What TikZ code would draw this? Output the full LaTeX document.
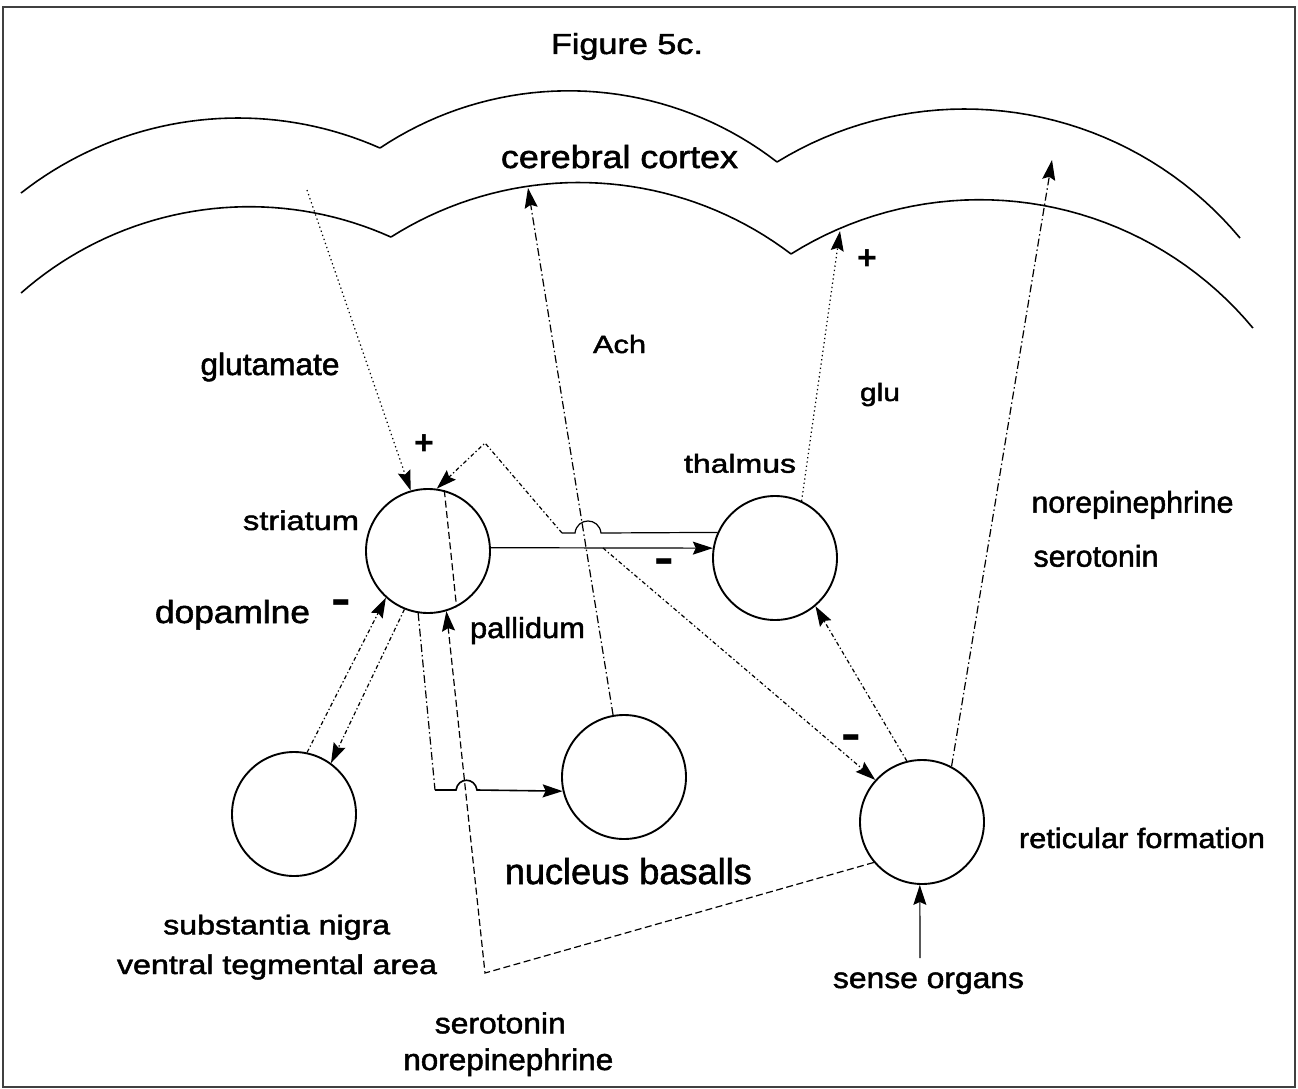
\documentclass[tikz,border=0pt]{standalone}
\usepackage{fontspec}
\setmainfont{Liberation Sans}
\newfontfamily\labfont{Liberation Sans}[FakeBold=1.6]
\usepackage{graphicx}
\usetikzlibrary{arrows.meta}
\newcommand\mylbl[3]{\fontsize{#1pt}{#1pt}\selectfont\resizebox{#2pt}{\height}{#3}}
\begin{document}
\begin{tikzpicture}[x=1pt,y=-1pt,
  nodecirc/.style={circle,draw,line width=1.9pt,minimum size=124pt,inner sep=0pt},
  lab/.style={inner sep=0pt,anchor=base,font=\labfont},
  sign/.style={inner sep=0pt,anchor=base,font=\bfseries},
  conn/.style={line width=1.2pt},
  arr/.style={-{Stealth[length=20pt,width=13pt,inset=3pt]}},
  dotln/.style={conn,dash pattern=on 1.3pt off 3pt},
  dashdotfine/.style={conn,dash pattern=on 4pt off 2.5pt on 1.3pt off 2.5pt},
  dashdotlong/.style={conn,dash pattern=on 8pt off 3pt on 1.5pt off 3pt},
  dashln/.style={conn,dash pattern=on 7pt off 3.5pt},
  solidln/.style={conn},
  cortex/.style={line width=1.6pt},
]
\useasboundingbox (0,0) rectangle (1298,1089);
\fill[white] (0,0) rectangle (1298,1089);
\draw[line width=2.2pt, black!75] (3,7) rectangle (1295,1087);

% cerebral cortex curves
\draw[cortex] plot[domain=128.16:66.15,samples=40,variable=\t] ({237.96+351.2*cos(\t)},{469.2-351.2*sin(\t)});
\draw[cortex] plot[domain=123.71:52.26,samples=40,variable=\t] ({568.8+340.2*cos(\t)},{431-340.2*sin(\t)});
\draw[cortex] plot[domain=121.55:39.8,samples=40,variable=\t] ({964.6+358.5*cos(\t)},{467.5-358.5*sin(\t)});
\draw[cortex] plot[domain=131.4:65.8,samples=40,variable=\t] ({249.4+345.3*cos(\t)},{552-345.3*sin(\t)});
\draw[cortex] plot[domain=122.36:52.78,samples=40,variable=\t] ({578.8+350.9*cos(\t)},{533.4-350.9*sin(\t)});
\draw[cortex] plot[domain=122.1:39.69,samples=40,variable=\t] ({979.7+355.1*cos(\t)},{554.8-355.1*sin(\t)});

% circles
\node[nodecirc] (str) at (428,551) {};
\node[nodecirc] (thal) at (775,558) {};
\node[nodecirc] (sn) at (294,814) {};
\node[nodecirc] (nb) at (624,777) {};
\node[nodecirc] (ret) at (922,822) {};

% labels
\node[lab] (title) at (627,54) {\mylbl{29}{152}{Figure 5c.}};
\node[lab] (lcortex) at (619.5,168) {\mylbl{32}{237}{cerebral cortex}};
\node[lab] (lglut) at (270,375) {\mylbl{31}{139}{glutamate}};
\node[lab] (lach) at (619.5,353) {\mylbl{25}{53}{Ach}};
\node[lab] (lglu) at (880,401) {\mylbl{25}{40}{glu}};
\node[lab] (lthal) at (740,472.7) {\mylbl{26}{112}{thalmus}};
\node[lab] (lstr) at (301,530) {\mylbl{27}{116}{striatum}};
\node[lab] (ldopa) at (232.5,623) {\mylbl{32}{155}{dopamlne}};
\node[lab] (lpall) at (527.5,638) {\mylbl{29}{115}{pallidum}};
\node[lab] (lne1) at (1132.5,512.7) {\mylbl{30}{202}{norepinephrine}};
\node[lab] (lser1) at (1096,566.7) {\mylbl{30}{125}{serotonin}};
\node[lab] (lret) at (1142,848) {\mylbl{28}{246}{reticular formation}};
\node[lab] (lnb) at (628.3,884) {\mylbl{36}{247}{nucleus basalls}};
\node[lab] (lsn) at (276.7,934.3) {\mylbl{27}{227}{substantia nigra}};
\node[lab] (lvta) at (277,974) {\mylbl{27}{320}{ventral tegmental area}};
\node[lab] (lsense) at (928.5,988) {\mylbl{29}{191}{sense organs}};
\node[lab] (lser2) at (500.3,1033.3) {\mylbl{29}{131}{serotonin}};
\node[lab] (lne2) at (508.3,1070) {\mylbl{30}{210}{norepinephrine}};

% signs
\node[sign] (plus1) at (424,454) {\fontsize{34pt}{34pt}\selectfont +};
\node[sign] (plus2) at (867,269) {\fontsize{34pt}{34pt}\selectfont +};
\node[sign] (minus1) at (341.7,619) {\fontsize{30pt}{30pt}\selectfont\scalebox{1}[1.7]{−}};
\node[sign] (minus2) at (664.7,578) {\fontsize{30pt}{30pt}\selectfont\scalebox{1}[1.7]{−}};
\node[sign] (minus3) at (851,754) {\fontsize{30pt}{30pt}\selectfont\scalebox{1}[1.7]{−}};

% free ends and bends
\coordinate (glutSrc) at (307,190);
\coordinate (achTip) at (528,188);
\coordinate (gluTip) at (840,231);
\coordinate (neTip) at (1052,160);
\coordinate (peak) at (485,443);
\coordinate (jA) at (601,533);
\coordinate (jB) at (575,533);
\coordinate (jC) at (562,533);
\coordinate (branch) at (603,548);
\coordinate (dropB) at (435,790);
\coordinate (hA) at (456,790);
\coordinate (hB) at (477,790);
\coordinate (corner) at (485,973);
\coordinate (senseSrc) at (920,958);

% connectors
\draw[dotln,arr] (glutSrc) -- (str.106);
\draw[solidln] (thal.156) -- (jA) .. controls (599,517) and (577,517) .. (jB) -- (jC);
\draw[dashdotfine,arr] (jC) -- (peak) -- (str.82);
\draw[solidln,arr] (str.3) -- (thal.171);
\draw[dashdotfine,arr] (branch) -- (ret.138);
\draw[dashdotlong,arr] (nb.100) -- (achTip);
\draw[dotln,arr] (thal.65) -- (gluTip);
\draw[dashdotlong,arr] (ret.62) -- (neTip);
\draw[dashdotfine,arr] (ret.104) -- (thal.-50);
\draw[dashdotfine,arr] (sn.78) -- (str.-132);
\draw[dashdotfine,arr] (str.-112) -- (sn.54);
\draw[dashdotlong] (str.-99) -- (dropB);
\draw[solidln,line width=1.6pt,arr] (dropB) -- (hA) .. controls (458,777) and (475,777) .. (hB) -- (nb.193);
\draw[dashln,arr] (ret.220) -- (corner) -- (str.-73);
\draw[dashln] (str.75) -- (str.-63);
\draw[solidln,arr] (senseSrc) -- (ret.-92);
\end{tikzpicture}
\end{document}
